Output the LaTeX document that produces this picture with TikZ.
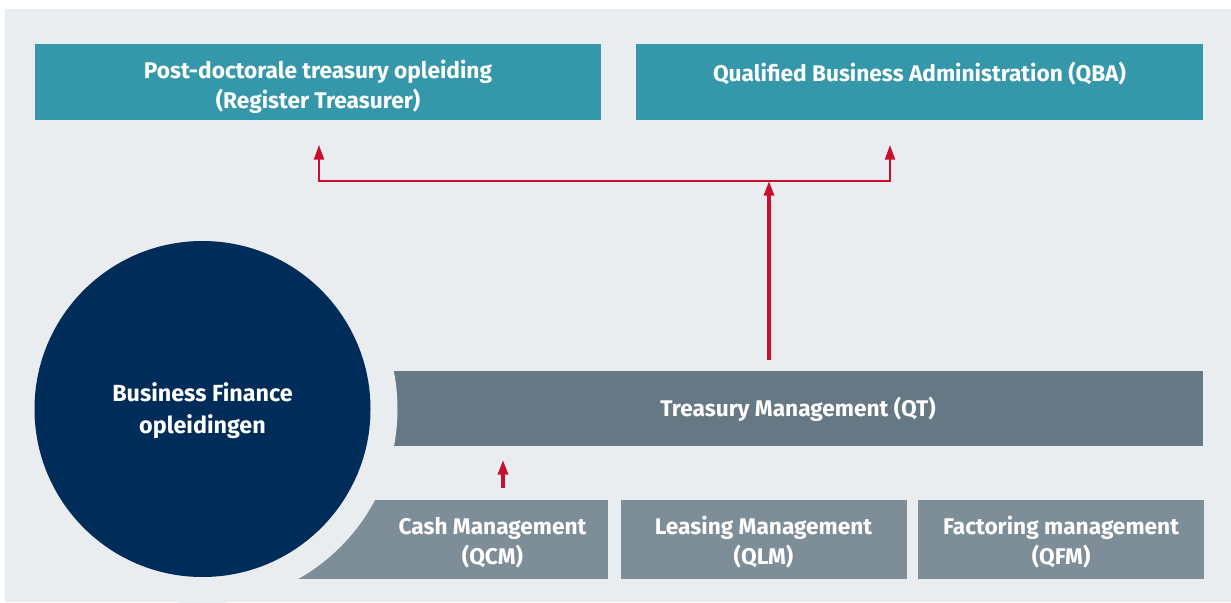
\documentclass[tikz,border=0pt]{standalone}
\usepackage{fontspec}
\setmainfont{Fira Sans}
\usetikzlibrary{arrows.meta,positioning}
\definecolor{bgray}{HTML}{E9EDF0}
\definecolor{teal}{HTML}{3598AA}
\definecolor{navy}{HTML}{002C5A}
\definecolor{slate}{HTML}{657883}
\definecolor{lslate}{HTML}{7E8E98}
\definecolor{ired}{HTML}{C8102E}
% Strut to push the text of a box a little down
\newcommand{\dropline}[1]{\rule{0pt}{#1}}
\tikzset
{
    % Style for the two goal boxes on top
    goal/.style=
    {
        fill=teal,
        text=white,
        font=\bfseries\fontsize{17}{22.5}\selectfont,
        align=center,
        minimum height=76*0.75pt,
        inner sep=0pt
    },
    % Style for the modules in the lower row
    module/.style=
    {
        fill=lslate,
        text=white,
        font=\bfseries\fontsize{17}{22.5}\selectfont,
        align=center,
        minimum height=79*0.75pt,
        inner sep=0pt
    },
    % Style for the red arrows
    ray/.style=
    {
        draw=ired,
        line width=1.6pt,
        -{Triangle[width=7.5pt,length=11pt]}
    },
    % Thicker arrow
    bigray/.style=
    {
        ray,
        line width=2.4pt
    }
}

\begin{document}
\begin{tikzpicture}[x=0.75pt,y=-0.75pt]
    % Bounding box and background
    \useasboundingbox (0,0) rectangle (1231,603);
    \fill[bgray] (5,9) rectangle (1231,602);

    % Goals
    \node (PT) [goal,minimum width=566*0.75pt] at (318,82)
        {\dropline{21pt}Post-doctorale treasury opleiding\\(Register Treasurer)};
    \node (QBA) [goal,minimum width=567*0.75pt] at (919.5,82)
        {\dropline{21pt}Qualified Business Administration (QBA)\\\mbox{}};

    % Treasury management
    \node (QT) [module,fill=slate,minimum width=810*0.75pt,minimum height=75*0.75pt]
        at (798,408.5) {\dropline{16pt}Treasury Management (QT)};

    % Lower modules
    \node (QCM) [module,minimum width=231*0.75pt] at (492.5,539.5)
        {\dropline{17pt}Cash Management\\(QCM)};
    \fill[lslate] (280,500) rectangle (QCM.south west);
    \node (QLM) [module,minimum width=286*0.75pt,right=12*0.75pt of QCM]
        {\dropline{17pt}Leasing Management\\(QLM)};
    \node (QFM) [module,minimum width=286*0.75pt,right=11*0.75pt of QLM]
        {\dropline{17pt}Factoring management\\(QFM)};

    % Gap round the circle, then the circle
    \begin{scope}
        \clip (5,9) rectangle (1231,602);
        \fill[bgray] (202.5,409) circle (195);
    \end{scope}
    \node (BF) [circle,fill=navy,text=white,minimum size=336*0.75pt,inner sep=0pt,
        align=center,font=\bfseries\fontsize{17.5}{24}\selectfont]
        at (202.5,409) {\dropline{17pt}Business Finance\\opleidingen};

    % Arrows
    \coordinate (split) at (769,181);
    \coordinate (tipPT) at (319,145);
    \coordinate (tipQBA) at (890,145);
    \draw[bigray] (QT.north -| split) ++(0,-11) -- (split);
    \draw[ray] (split) -| (tipPT);
    \draw[ray] (split) -| (tipQBA);
    \coordinate (cm) at (503,488);
    \coordinate (cmtip) at (503,460);
    \draw[bigray] (cm) -- (cmtip);
\end{tikzpicture}
\end{document}
